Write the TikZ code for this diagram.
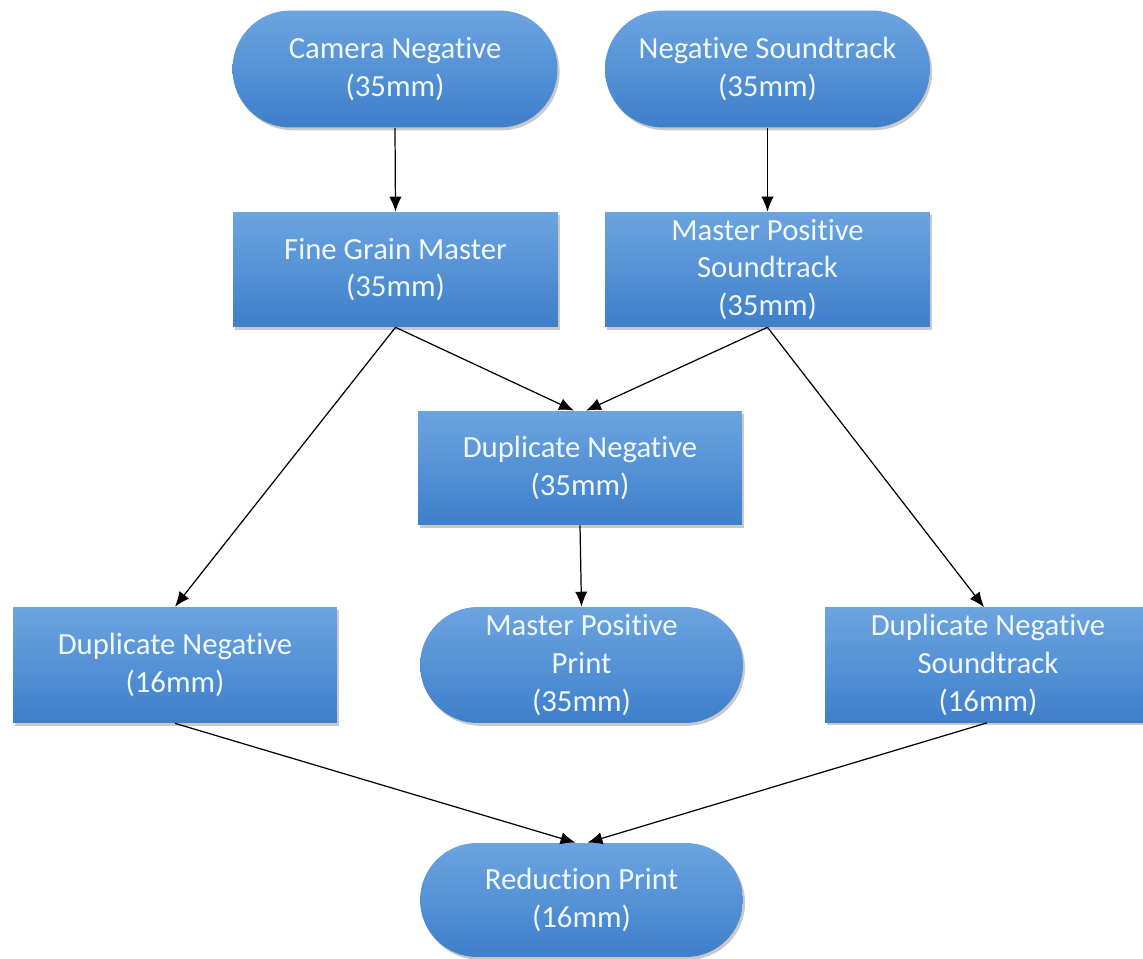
\documentclass[tikz,border=0pt]{standalone}
\usepackage{fontspec}
\setmainfont{Carlito}[Ligatures={NoCommon,NoContextual},Contextuals=NoAlternate]
\usetikzlibrary{arrows.meta,shadows,calc}
\definecolor{boxtop}{RGB}{108,164,224}
\definecolor{boxbot}{RGB}{62,127,203}
\definecolor{boxtext}{RGB}{240,248,250}
\begin{document}
\begin{tikzpicture}[x=0.02cm,y=-0.02cm,
  base/.style={top color=boxtop, bottom color=boxbot, draw=none,
    text=boxtext, align=center, inner sep=0pt,
    font=\fontsize{17.5pt}{21.5pt}\selectfont,
    drop shadow={shadow xshift=1.2pt, shadow yshift=-1.6pt, opacity=0.3, fill=black!70}},
  sbox/.style={base, rectangle, minimum width=6.5cm, minimum height=2.3cm},
  spill/.style={base, rectangle, rounded corners=1.16cm, minimum width=6.5cm, minimum height=2.34cm},
  conn/.style={-{Latex[length=8.5pt,width=7pt]}, line width=0.7pt, black}]
\useasboundingbox (0,0) rectangle (1143,959);

\node[spill] (cam)  at (395,69)    {Camera Negative\\(35mm)};
\node[spill] (negs) at (767.5,69)  {Negative Soundtrack\\(35mm)};
\node[sbox]  (fgm)  at (395.5,269.5) {Fine Grain Master\\(35mm)};
\node[sbox]  (mps)  at (767.5,269.5) {Master Positive\\Soundtrack\\(35mm)};
\node[sbox, minimum width=6.48cm, minimum height=2.28cm] (dn35) at (580,468) {Duplicate Negative\\(35mm)};
\node[sbox, minimum width=6.48cm, minimum height=2.32cm] (dn16) at (175,665) {Duplicate Negative\\(16mm)};
\node[spill, minimum width=6.46cm, minimum height=2.32cm, rounded corners=1.16cm] (mpp) at (581.5,665) {Master Positive\\Print\\(35mm)};
\node[sbox, minimum width=6.52cm, minimum height=2.3cm] (dns) at (988,665) {Duplicate Negative\\Soundtrack\\(16mm)};
\node[spill, minimum width=6.46cm, minimum height=2.28cm, rounded corners=1.14cm] (red) at (581.5,900) {Reduction Print\\(16mm)};

\draw[conn] (cam.south) -- (fgm.north);
\draw[conn] (negs.south) -- (mps.north);
\draw[conn] (fgm.south) -- ($(dn35.north)+(-6,0)$);
\draw[conn] (mps.south) -- ($(dn35.north)+(6,0)$);
\draw[conn] (fgm.south) -- (dn16.north);
\draw[conn] (mps.south) -- ($(dns.north)+(-4,0)$);
\draw[conn] (dn35.south) -- (mpp.north);
\draw[conn] (dn16.south) -- ($(red.north)+(-6,0)$);
\draw[conn] ($(dns.south)+(-1,0)$) -- ($(red.north)+(6,0)$);
\end{tikzpicture}
\end{document}
